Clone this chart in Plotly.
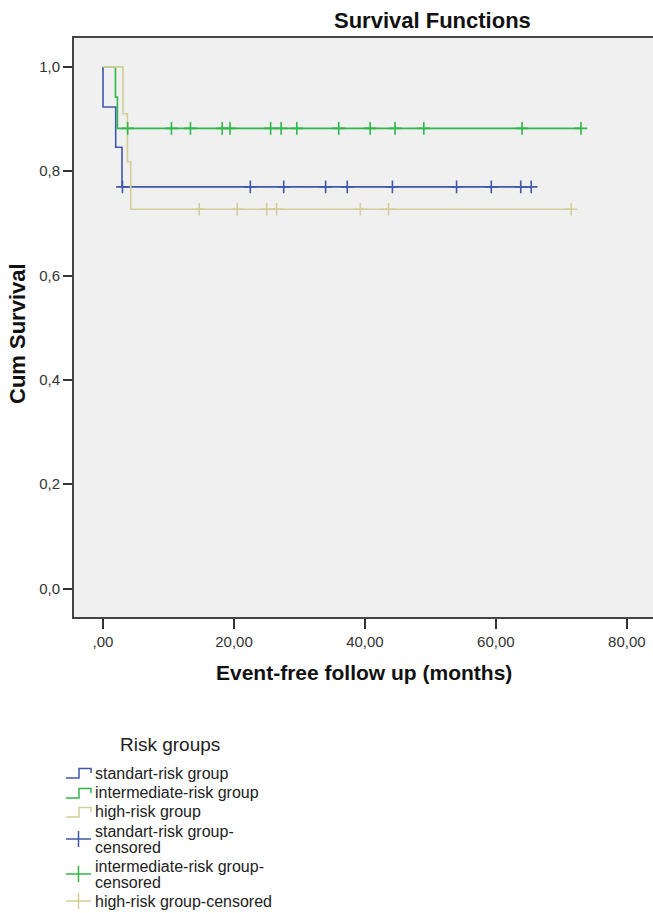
import plotly.graph_objects as go

# ---- data ----
groups = ["standart-risk group", "intermediate-risk group", "high-risk group"]
colors = ["#3e58ac", "#2eb848", "#d3ce97"]

# step functions: times where survival changes and survival level after that time
std_event_times = [0.0, 1.94, 2.90]
std_surv_levels = [0.923, 0.846, 0.770]
std_censored = [2.97, 22.5, 27.6, 34.0, 37.3, 44.2, 54.0, 59.3, 63.8, 65.4]

int_event_times = [1.90, 2.20]
int_surv_levels = [0.942, 0.882]
int_censored = [3.77, 10.45, 13.36, 18.2, 19.4, 25.6, 27.2, 29.6, 36.0, 40.8,
                44.6, 49.0, 64.0, 73.0]

high_event_times = [3.06, 3.73, 4.23]
high_surv_levels = [0.910, 0.818, 0.727]
high_censored = [14.7, 20.5, 25.0, 26.5, 39.3, 43.6, 71.5]

x_tickvals = [0, 20, 40, 60, 80]
x_ticktext = [",00", "20,00", "40,00", "60,00", "80,00"]
y_tickvals = [0.0, 0.2, 0.4, 0.6, 0.8, 1.0]
y_ticktext = ["0,0", "0,2", "0,4", "0,6", "0,8", "1,0"]

legend_title = "Risk groups"
legend_line_labels = [["standart-risk group"], ["intermediate-risk group"], ["high-risk group"]]
legend_cens_labels = [["standart-risk group-", "censored"],
                      ["intermediate-risk group-", "censored"],
                      ["high-risk group-censored"]]

event_times = [std_event_times, int_event_times, high_event_times]
surv_levels = [std_surv_levels, int_surv_levels, high_surv_levels]
censored = [std_censored, int_censored, high_censored]


def level_at(t, ev, lv):
    s = 1.0
    for e, l in zip(ev, lv):
        if e <= t:
            s = l
    return s


FONT = "Arial, Liberation Sans, sans-serif"
W, H = 653, 913
ML, MR, MT, MB = 74, 0, 38, 296
PW, PH = W - ML - MR, H - MT - MB


def px(xp):
    return (xp - ML) / PW


def py(yp):
    return (H - MB - yp) / PH


fig = go.Figure()

for g, c, ev, lv, cen in zip(groups, colors, event_times, surv_levels, censored):
    end = max(cen)
    xs = [0.0] + ev + [end]
    ys = [1.0] + lv + [lv[-1]]
    fig.add_trace(go.Scatter(x=xs, y=ys, mode="lines", line=dict(color=c, width=1.6, shape="hv"),
                             name=g, hoverinfo="skip", showlegend=False))

for g, c, ev, lv, cen in zip(groups, colors, event_times, surv_levels, censored):
    ys = [level_at(t, ev, lv) for t in cen]
    fig.add_trace(go.Scatter(x=cen, y=ys, mode="markers",
                             marker=dict(symbol="cross-thin", size=9, line=dict(color=c, width=1.6)),
                             name=g + "-censored", hoverinfo="skip", showlegend=False))

annotations = []
shapes = []

# titles
annotations.append(dict(text="<b>Survival Functions</b>", x=px(432), y=py(21), xref="paper", yref="paper",
                        xanchor="center", yanchor="middle", showarrow=False,
                        font=dict(size=22, family=FONT, color="#111")))
annotations.append(dict(text="<b>Event-free follow up (months)</b>", x=px(364), y=py(672), xref="paper",
                        yref="paper", xanchor="center", yanchor="middle", showarrow=False,
                        font=dict(size=21, family=FONT, color="#111")))
annotations.append(dict(text="<b>Cum Survival</b>", x=px(17), y=py(334), xref="paper", yref="paper",
                        xanchor="center", yanchor="middle", showarrow=False, textangle=-90,
                        font=dict(size=22, family=FONT, color="#111")))

# manual legend (SPSS style)
annotations.append(dict(text=legend_title, x=px(170), y=py(744), xref="paper", yref="paper",
                        xanchor="center", yanchor="middle", showarrow=False,
                        font=dict(size=19, family=FONT, color="#222")))
icon_x0, icon_x1, text_x = 66, 91, 93
text_line_y = [773, 793, 812, 831, 847, 866, 882, 901]
k = 0
for labels, c in zip(legend_line_labels, colors):
    yc = text_line_y[k]
    path = "M{},{} H{} V{} H{} V{}".format(px(icon_x0), py(yc + 5), px(79), py(yc - 4.5), px(icon_x1), py(yc))
    shapes.append(dict(type="path", path=path, xref="paper", yref="paper", line=dict(color=c, width=1.5)))
    annotations.append(dict(text=labels[0], x=px(text_x), y=py(yc), xref="paper", yref="paper",
                            xanchor="left", yanchor="middle", showarrow=False,
                            font=dict(size=16, family=FONT, color="#222")))
    k += 1
for labels, c in zip(legend_cens_labels, colors):
    centers = text_line_y[k:k + len(labels)]
    k += len(labels)
    yc = sum(centers) / len(centers)
    shapes.append(dict(type="line", x0=px(icon_x0), x1=px(icon_x1), y0=py(yc), y1=py(yc),
                       xref="paper", yref="paper", line=dict(color=c, width=1.5)))
    shapes.append(dict(type="line", x0=px(78.5), x1=px(78.5), y0=py(yc - 8), y1=py(yc + 8),
                       xref="paper", yref="paper", line=dict(color=c, width=1.5)))
    for lab, yy in zip(labels, centers):
        annotations.append(dict(text=lab, x=px(text_x), y=py(yy), xref="paper", yref="paper",
                                xanchor="left", yanchor="middle", showarrow=False,
                                font=dict(size=16, family=FONT, color="#222")))

fig.update_layout(
    width=W, height=H,
    margin=dict(l=ML, r=MR, t=MT, b=MB),
    paper_bgcolor="white",
    plot_bgcolor="#f0f0f0",
    font=dict(family=FONT, size=15, color="#333"),
    showlegend=False,
    annotations=annotations,
    shapes=shapes,
)

fig.update_xaxes(
    range=[-4.43, 84.0], tickvals=x_tickvals, ticktext=x_ticktext,
    showgrid=False, zeroline=False,
    showline=True, linecolor="#444", linewidth=1.8, mirror=True,
    ticks="outside", ticklen=10, tickcolor="#333", tickwidth=1.5,
    tickfont=dict(size=15, family=FONT, color="#333"),
)
fig.update_yaxes(
    range=[-0.0545, 1.0553], tickvals=y_tickvals, ticktext=y_ticktext,
    showgrid=False, zeroline=False,
    showline=True, linecolor="#444", linewidth=1.8, mirror=False,
    ticks="outside", ticklen=9, tickcolor="#333", tickwidth=1.5,
    tickfont=dict(size=15, family=FONT, color="#333"),
)

fig.write_html("out.html")
